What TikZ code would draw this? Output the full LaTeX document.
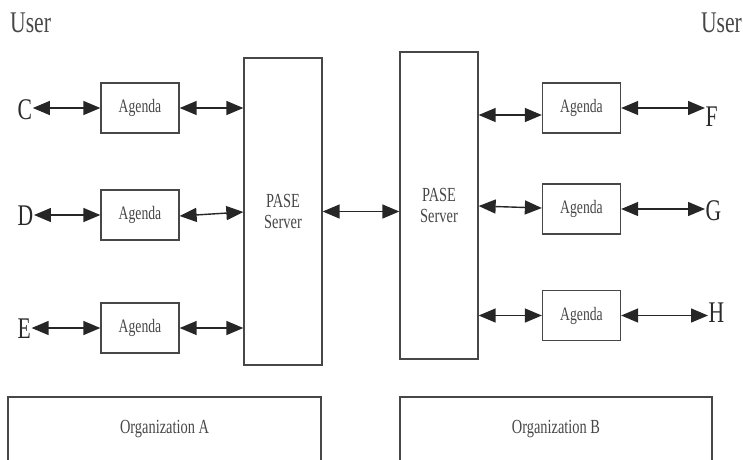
\documentclass[tikz,border=0pt]{standalone}
\usepackage{fontspec}
\setmainfont{Liberation Serif}[FakeStretch=0.72]
\usetikzlibrary{arrows.meta}
\definecolor{ink}{HTML}{474747}
\definecolor{dark}{HTML}{2A2A2A}
\tikzset{
  box/.style={draw=ink, line width=1.3pt, rectangle, inner sep=0pt, text=ink},
  agenda/.style={box, minimum width=78pt, minimum height=50pt, font=\fontsize{19}{19}\selectfont},
  server/.style={box, minimum width=78pt, minimum height=307pt, align=center,
                 font=\fontsize{20}{21}\selectfont},
  org/.style={box, minimum height=64pt, font=\fontsize{20}{20}\selectfont},
  letter/.style={inner sep=0.5pt, text=dark, font=\fontsize{30}{30}\selectfont},
  usr/.style={inner sep=0pt, text=ink, font=\fontsize{30}{30}\selectfont},
  link/.style={<->, >={Triangle[length=17pt,width=14pt]}, line width=1.4pt, draw=black!85}
}
\begin{document}
\begin{tikzpicture}[x=1pt,y=-1pt]
\useasboundingbox (0,0) rectangle (743,459);
\clip (0,0) rectangle (743,459);

% users
\node[usr, anchor=base west] (userL) at (10,32) {User};
\node[usr, anchor=base east] (userR) at (742,32) {User};

% organisation A
\node[agenda] (agC) at (140,108) {Agenda};
\node[agenda] (agD) at (140,215) {Agenda};
\node[agenda] (agE) at (140,328) {Agenda};
\node[server] (srvA) at (283,211.5) {PASE\\Server};

% organisation B
\node[server] (srvB) at (439,205.5) {PASE\\Server};
\node[agenda] (agF) at (581.5,108) {Agenda};
\node[agenda] (agG) at (581.5,209) {Agenda};
\node[agenda] (agH) at (581.5,315.5) {Agenda};

% end users
\node[letter, anchor=base west] (C) at (17,119) {C};
\node[letter, anchor=base west] (D) at (17,225) {D};
\node[letter, anchor=base west] (E) at (17,338) {E};
\node[letter, anchor=base west] (F) at (705,126) {F};
\node[letter, anchor=base west] (G) at (705,220) {G};
\node[letter, anchor=base west] (H) at (708,322) {H};

% organisation frames
\node[org, minimum width=313pt] (orgA) at (164.5,429) {Organization A};
\node[org, minimum width=312pt] (orgB) at (556,429) {Organization B};

% connector ends that sit a little off the box centres
\path (agD.east) ++(0,1) coordinate (dL);
\path (srvA.west |- agD.east) ++(0,-3) coordinate (dR);
\path (srvB.east |- agF.west) ++(0,7) coordinate (fL);
\path (agF.west) ++(0,7) coordinate (fR);
\path (srvB.east |- agG.west) ++(0,-3) coordinate (gL);
\path (agG.west) ++(0,-1) coordinate (gR);

% user <-> agenda
\draw[link] (C.east |- agC.west) -- (agC.west);
\draw[link] (D.east |- agD.west) -- (agD.west);
\draw[link] (E.east |- agE.west) -- (agE.west);
\draw[link] (agF.east) -- (F.west |- agF.east);
\draw[link] (agG.east) -- (G.west |- agG.east);
\draw[link] (agH.east) -- (H.west |- agH.east);

% agenda <-> server
\draw[link] (agC.east) -- (srvA.west |- agC.east);
\draw[link] (dL) -- (dR);
\draw[link] (agE.east) -- (srvA.west |- agE.east);
\draw[link] (fL) -- (fR);
\draw[link] (gL) -- (gR);
\draw[link] (srvB.east |- agH.west) -- (agH.west);

% server <-> server
\draw[link] (srvA.east) -- (srvB.west |- srvA.east);
\end{tikzpicture}
\end{document}
